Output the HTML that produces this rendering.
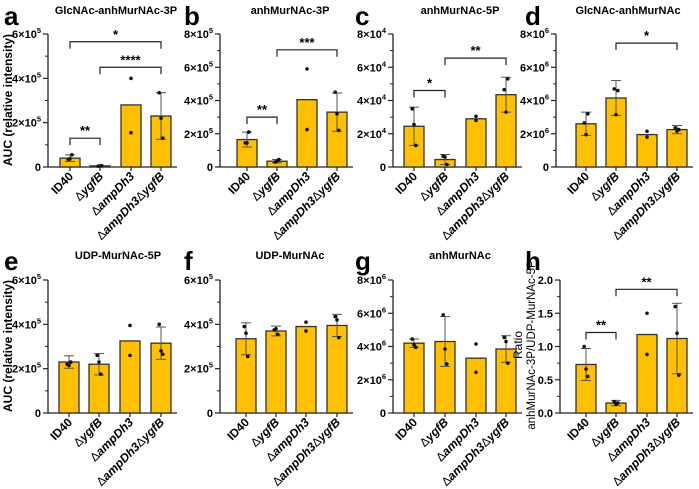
<!DOCTYPE html>
<html><head><meta charset="utf-8"><style>
body{margin:0;background:#fff;}
svg{display:block;font-family:"Liberation Sans",Arial,sans-serif;}
</style></head><body>
<svg id="fig" width="699" height="489" viewBox="0 0 699 489"></svg>
<script>
const categories = ["ID40", "ΔygfB", "ΔampDh3", "ΔampDh3ΔygfB"];
const titles = ["GlcNAc-anhMurNAc-3P","anhMurNAc-3P","anhMurNAc-5P","GlcNAc-anhMurNAc","UDP-MurNAc-5P","UDP-MurNAc","anhMurNAc","Ratio"];
const letters = ["a","b","c","d","e","f","g","h"];
const yMax = [6e5, 8e5, 8e4, 8e6, 6e5, 6e5, 8e6, 2.0];
const tickLabelsA = ["0","2×10|5","4×10|5","6×10|5"];
const tickLabelsB = ["0","2×10|5","4×10|5","6×10|5","8×10|5"];
const tickLabelsC = ["0","2×10|4","4×10|4","6×10|4","8×10|4"];
const tickLabelsD = ["0","2×10|6","4×10|6","6×10|6","8×10|6"];
const tickLabelsH = ["0.0","0.5","1.0","1.5","2.0"];
const tickValuesA = [0,2e5,4e5,6e5];
const tickValuesB = [0,2e5,4e5,6e5,8e5];
const tickValuesC = [0,2e4,4e4,6e4,8e4];
const tickValuesD = [0,2e6,4e6,6e6,8e6];
const tickValuesH = [0,0.5,1.0,1.5,2.0];
const meansA = [0.4e5, 0.05e5, 2.8e5, 2.3e5];
const meansB = [1.65e5, 0.35e5, 4.05e5, 3.3e5];
const meansC = [2.45e4, 0.45e4, 2.9e4, 4.35e4];
const meansD = [2.6e6, 4.15e6, 1.95e6, 2.25e6];
const meansE = [2.3e5, 2.2e5, 3.25e5, 3.15e5];
const meansF = [3.35e5, 3.7e5, 3.9e5, 3.95e5];
const meansG = [4.2e6, 4.3e6, 3.3e6, 3.85e6];
const meansH = [0.73, 0.15, 1.18, 1.12];
const sdA = [0.15e5, 0.02e5, 0, 1.05e5];
const sdB = [0.45e5, 0.1e5, 0, 1.15e5];
const sdC = [1.15e4, 0.3e4, 0, 1.05e4];
const sdD = [0.7e6, 1.05e6, 0, 0.25e6];
const sdE = [0.28e5, 0.48e5, 0, 0.73e5];
const sdF = [0.72e5, 0.22e5, 0, 0.5e5];
const sdG = [0.25e6, 1.5e6, 0, 0.8e6];
const sdH = [0.24, 0.04, 0, 0.53];
const ptsA = [[0.35e5,0.37e5,0.55e5],[0.04e5,0.05e5,0.06e5],[4.0e5,1.55e5],[3.35e5,2.2e5,1.3e5]];
const ptsB = [[1.45e5,1.45e5,2.1e5],[0.3e5,0.35e5,0.45e5],[5.9e5,2.25e5],[4.5e5,3.2e5,2.2e5]];
const ptsC = [[3.5e4,2.55e4,1.3e4],[0.65e4,0.6e4,0.15e4],[3.05e4,2.8e4],[4.65e4,3.3e4,5.3e4]];
const ptsD = [[2.65e6,1.95e6,3.2e6],[4.7e6,3.15e6,4.6e6],[2.15e6,1.8e6],[2.35e6,2.15e6,2.25e6]];
const ptsE = [[2.2e5,2.15e5,2.3e5],[2.6e5,2.3e5,1.75e5],[3.95e5,2.6e5],[4.0e5,2.8e5,2.65e5]];
const ptsF = [[3.9e5,3.6e5,2.55e5],[3.75e5,3.8e5,3.55e5],[4.1e5,3.7e5],[4.35e5,4.2e5,3.4e5]];
const ptsG = [[4.45e6,4.1e6,3.95e6],[5.9e6,3.85e6,2.95e6],[4.15e6,2.45e6],[4.55e6,4.3e6,3.0e6]];
const ptsH = [[1.0,0.66,0.55],[0.17,0.13,0.15],[1.5,0.88],[1.6,1.2,0.57]];
const sigA = [[0,1,1.3e5,"**"],[1,3,4.5e5,"****"],[0,3,5.65e5,"*"]];
const sigB = [[0,1,3.0e5,"**"],[1,3,7.05e5,"***"]];
const sigC = [[0,1,4.6e4,"*"],[1,3,6.55e4,"**"]];
const sigD = [[1,3,7.45e6,"*"]];
const sigH = [[0,1,1.21,"**"],[1,3,1.86,"**"]];

const panels = [
 {ax:48, bars:[70,100,131,161], y0:167, y1:34, m:meansA, sd:sdA, p:ptsA, tl:tickLabelsA, tv:tickValuesA, sig:sigA, tx:116, lx:4},
 {ax:220, bars:[247,277,307,337], y0:167, y1:34, m:meansB, sd:sdB, p:ptsB, tl:tickLabelsB, tv:tickValuesB, sig:sigB, tx:290, lx:184},
 {ax:393, bars:[414,445,476,506], y0:167, y1:34, m:meansC, sd:sdC, p:ptsC, tl:tickLabelsC, tv:tickValuesC, sig:sigC, tx:460, lx:355},
 {ax:556, bars:[586,616,647,677], y0:167, y1:34, m:meansD, sd:sdD, p:ptsD, tl:tickLabelsD, tv:tickValuesD, sig:sigD, tx:628, lx:525},
 {ax:48, bars:[69,99,130,161], y0:413, y1:280, m:meansE, sd:sdE, p:ptsE, tl:tickLabelsA, tv:tickValuesA, sig:[], tx:118, lx:4},
 {ax:220, bars:[246,276,306,337], y0:413, y1:280, m:meansF, sd:sdF, p:ptsF, tl:tickLabelsA, tv:tickValuesA, sig:[], tx:290, lx:184},
 {ax:393, bars:[414,445,476,506], y0:413, y1:280, m:meansG, sd:sdG, p:ptsG, tl:tickLabelsD, tv:tickValuesD, sig:[], tx:460, lx:355},
 {ax:560, bars:[586,616,647,677], y0:413, y1:280, m:meansH, sd:sdH, p:ptsH, tl:tickLabelsH, tv:tickValuesH, sig:sigH, tx:0, lx:525}
];
const NS="http://www.w3.org/2000/svg";
const svg=document.getElementById('fig');
function mk(tag, attrs, parent, text){
  const e=document.createElementNS(NS,tag);
  for(const k in attrs) e.setAttribute(k,attrs[k]);
  if(text!==undefined) e.textContent=text;
  (parent||svg).appendChild(e); return e;
}
panels.forEach((P,i)=>{
  const g=mk('g',{});
  
  
  const ys=v=>P.y0-(v/yMax[i])*(P.y0-P.y1);
  const ty=P.y0<200?17:262;
  const L=mk('text',{x:P.lx,y:ty+8,'font-size':26,'font-weight':'bold'},g,letters[i]);
  
  
  if(i<7){
    const T=mk('text',{x:P.tx,y:ty-3,'font-size':11,'font-weight':'bold','text-anchor':'middle'},g,titles[i]);
    
    
  }
  const ax=mk('line',{x1:P.ax,x2:P.ax,y1:P.y1,y2:P.y0,stroke:'#222','stroke-width':1.3},g);
  
  
  const xl=mk('line',{x1:P.ax,x2:P.bars[3]+16,y1:P.y0,y2:P.y0,stroke:'#222','stroke-width':1.3},g);
  
  
  P.tv.forEach((v,k)=>{
    const y=ys(v);
    mk('line',{x1:P.ax-5,x2:P.ax,y1:y,y2:y,stroke:'#222','stroke-width':1.2},g);
    if(k<P.tv.length-1){const ym=ys((v+P.tv[k+1])/2);mk('line',{x1:P.ax-3,x2:P.ax,y1:ym,y2:ym,stroke:'#222','stroke-width':1},g);}
    const t=mk('text',{x:P.ax-7,y:y+4,'font-size':11,'font-weight':'bold','text-anchor':'end'},g);
    const parts=P.tl[k].split('|');
    mk('tspan',{},t,parts[0]);
    if(parts[1]) mk('tspan',{'font-size':7.5,dy:-5},t,parts[1]);
    
    
  });
  P.bars.forEach((cx,j)=>{
    const top=ys(P.m[j]);
    const r=mk('rect',{x:cx-10,y:top,width:20,height:P.y0-top,fill:'#FFC000',stroke:'#333','stroke-width':1.3},g);
    
    
    if(P.sd[j]>0){
      const a=ys(P.m[j]+P.sd[j]), b=ys(Math.max(0,P.m[j]-P.sd[j]));
      mk('line',{x1:cx,x2:cx,y1:a,y2:b,stroke:'#555','stroke-width':1},g);
      mk('line',{x1:cx-5,x2:cx+5,y1:a,y2:a,stroke:'#555','stroke-width':1},g);
      mk('line',{x1:cx-5,x2:cx+5,y1:b,y2:b,stroke:'#555','stroke-width':1},g);
    }
    P.p[j].forEach((v,q)=>{
      const off=P.p[j].length===3?[-3,0,3][q]:0;
      const d=mk('circle',{cx:cx+off*0.6,cy:ys(v),r:1.8,fill:'#111'},g);
      
      
    });
    mk('line',{x1:cx,x2:cx,y1:P.y0,y2:P.y0+4,stroke:'#222','stroke-width':1.2},g);
    const t=mk('text',{x:0,y:0,'font-size':12,'font-weight':'bold','text-anchor':'end',transform:`translate(${cx+4},${P.y0+10}) rotate(-45)`},g);
    const s=categories[j];
    if(j===0){t.textContent=s;}
    else{
      const parts=s.split('Δ').filter(x=>x);
      parts.forEach(pt=>{mk('tspan',{'font-weight':'normal'},t,'Δ');mk('tspan',{'font-style':'italic'},t,pt);});
    }
    
    
  });
  P.sig.forEach(s=>{
    const x1=P.bars[s[0]],x2=P.bars[s[1]],y=ys(s[2]);
    const br=mk('path',{d:`M${x1},${y+7}V${y}H${x2}V${y+7}`,fill:'none',stroke:'#222','stroke-width':1.2},g);
    
    
    const st=mk('text',{x:(x1+x2)/2,y:y-3,'font-size':13,'font-weight':'bold','text-anchor':'middle'},g,s[3]);
    
    
  });
});
[100,346].forEach(cy=>{
  const t=mk('text',{x:0,y:0,'font-size':12,'font-weight':'bold','text-anchor':'middle',transform:`translate(12,${cy}) rotate(-90)`},svg,'AUC (relative intensity)');
  
  
});
const h1=mk('text',{x:0,y:0,'font-size':12,'text-anchor':'middle',transform:`translate(522,345) rotate(-90)`},svg,'Ratio');


const h2=mk('text',{x:0,y:0,'font-size':11.5,'text-anchor':'middle',transform:`translate(535,345) rotate(-90)`},svg,'anhMurNAc-3P/UDP-MurNAc-5P');


</script>
</body></html>
